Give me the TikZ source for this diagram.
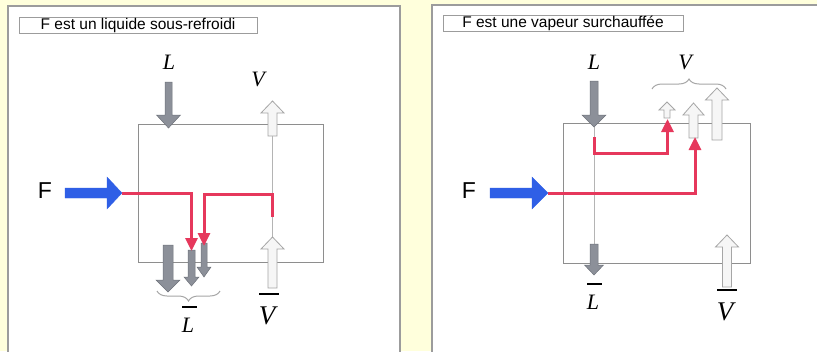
\documentclass[tikz,border=0pt]{standalone}
\usepackage{fontspec}
\setmainfont{Liberation Sans}
\newfontfamily\varfont{Liberation Serif}
\usetikzlibrary{arrows.meta,decorations.pathreplacing}
\definecolor{PageBg}{HTML}{FFFFDC}
\definecolor{PanelLine}{HTML}{9C9C9C}
\definecolor{BoxLine}{HTML}{8E8E8E}
\definecolor{LiqFill}{HTML}{8C9099}
\definecolor{LiqEdge}{HTML}{6E727A}
\definecolor{VapFill}{HTML}{F6F6F6}
\definecolor{VapEdge}{HTML}{A6A6A6}
\definecolor{FeedBlue}{HTML}{2F5FE6}
\definecolor{FlowRed}{HTML}{E6385C}
\definecolor{GuideGray}{HTML}{B4B4B4}
% vertical block arrow: x, tail y, head base y, tip y, shaft half, head half
\newcommand{\vflow}[7][]{%
  \filldraw[#1] ({#2-#6},#3) -- ({#2-#6},#4) -- ({#2-#7},#4) -- (#2,#5)
    -- ({#2+#7},#4) -- ({#2+#6},#4) -- ({#2+#6},#3) -- cycle;}
% horizontal block arrow: y, tail x, head base x, tip x, shaft half, head half
\newcommand{\hflow}[7][]{%
  \filldraw[#1] (#3,{#2-#6}) -- (#4,{#2-#6}) -- (#4,{#2-#7}) -- (#5,#2)
    -- (#4,{#2+#7}) -- (#4,{#2+#6}) -- (#3,{#2+#6}) -- cycle;}
% letter with a bold bar above it
\newcommand{\barvar}[1]{{\setbox0\hbox{#1}%
  \vbox{\hbox to\wd0{\hskip0.02\wd0\vrule width 1.2\wd0 height 1.6pt\hss}\kern2.5pt\box0}}}

\begin{document}
\begin{tikzpicture}[x=1pt,y=-1pt,
  panel/.style={fill=white, draw=PanelLine, line width=1.3pt},
  titlebox/.style={draw=PanelLine, line width=0.9pt, inner sep=0pt,
    minimum height=16pt, font=\fontsize{15.5}{16}\selectfont},
  column/.style={draw=BoxLine, line width=0.9pt, inner sep=0pt},
  guide/.style={draw=GuideGray, line width=0.9pt},
  liqflow/.style={fill=LiqFill, draw=LiqEdge, line width=0.5pt},
  vapflow/.style={fill=VapFill, draw=VapEdge, line width=0.8pt},
  feedflow/.style={fill=FeedBlue, draw=FeedBlue, line width=0.3pt},
  redflow/.style={draw=FlowRed, line width=3pt,
    -{Triangle[width=12pt,length=13pt]}},
  varlab/.style={inner sep=0pt, font=\fontsize{22}{22}\selectfont\varfont\itshape},
  bigvar/.style={font=\fontsize{27}{27}\selectfont\varfont\itshape},
  feedlab/.style={inner sep=0pt, font=\fontsize{23}{23}\selectfont},
  splitbrace/.style={draw=VapEdge, line width=1pt,
    decorate, decoration={brace, amplitude=10pt}}
]
\useasboundingbox (0,0) rectangle (817,351);
\clip (0,0) rectangle (817,351);
\fill[PageBg] (0,0) rectangle (817,351);

% left panel: subcooled liquid feed
\draw[panel] (8,6) rectangle (400,365);
\node[titlebox, minimum width=238pt] (titleA) at (138,25) {F est un liquide sous-refroidi};
\node[column, minimum width=185pt, minimum height=138pt] (colA) at (230.5,193) {};
\draw[guide] (272.5,136) -- (272.5,237);
\vflow[liqflow]{168.5}{82}{115}{128}{3.5}{12}
\vflow[vapflow]{272.5}{136}{113}{101}{4.5}{11.5}
\vflow[vapflow]{272.5}{288}{249}{237}{4.5}{11.5}
\vflow[liqflow]{168}{245}{280}{292}{5}{12}
\vflow[liqflow]{191.5}{250}{277}{286}{3.5}{7.5}
\vflow[liqflow]{204}{243}{267}{277}{3}{7}
\hflow[feedflow]{193}{65}{107}{122}{5}{16}
\node[feedlab] (FA) at (45,191) {F};
\node[varlab] (LA) at (169,62) {L};
\node[varlab] (VA) at (258,79) {V};
\node[varlab] (LbarA) at (188,319) {\barvar{L}};
\node[varlab, bigvar] (VbarA) at (267,309) {\barvar{V}};
\draw[splitbrace] (220,291) -- (157,291);
\coordinate (feedA) at (122,193);
\coordinate (midA) at (191.5,251);
\coordinate (stubA) at (272.5,217);
\coordinate (smallA) at (204,246);
\draw[redflow] (feedA) -| (midA);
\draw[redflow] (stubA) -- ++(0,-23) -| (smallA);

% right panel: superheated vapour feed
\draw[panel] (432,5) rectangle (830,365);
\node[titlebox, minimum width=240pt] (titleB) at (563,23.5) {F est une vapeur surchauffée};
\node[column, minimum width=187pt, minimum height=140pt] (colB) at (656.5,193) {};
\draw[guide] (594,127) -- (594,244);
\vflow[liqflow]{594}{81}{115}{127}{4}{12}
\vflow[liqflow]{594}{244}{265}{275}{4}{9.5}
\vflow[vapflow]{667}{118}{110}{102}{3}{8}
\vflow[vapflow]{693.5}{138}{115}{103}{4.5}{10.5}
\vflow[vapflow]{717}{140}{100}{88}{5}{11.5}
\vflow[vapflow]{727}{287}{247}{235}{4.5}{11.5}
\hflow[feedflow]{193}{490}{532}{548}{5}{16}
\node[feedlab] (FB) at (469,191) {F};
\node[varlab] (LB) at (594,62) {L};
\node[varlab] (VB) at (685,62) {V};
\node[varlab] (LbarB) at (593,296) {\barvar{L}};
\node[varlab, bigvar] (VbarB) at (725,305) {\barvar{V}};
\draw[splitbrace] (652,89) -- (726,89);
\coordinate (feedB) at (548,193);
\coordinate (topB) at (594,137);
\coordinate (smallB) at (667.5,119);
\coordinate (midB) at (695,137);
\draw[redflow] (topB) -- ++(0,16) -| (smallB);
\draw[redflow] (feedB) -| (midB);
\end{tikzpicture}
\end{document}
